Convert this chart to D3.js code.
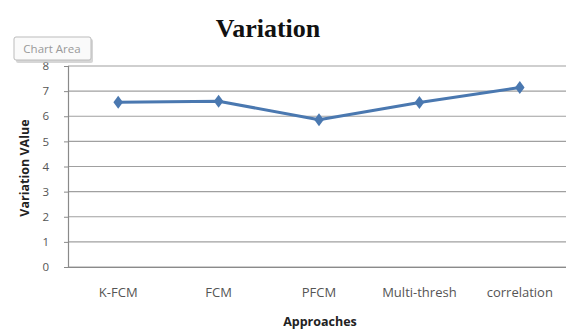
<!DOCTYPE html>
<html><head><meta charset="utf-8">
<script src="https://cdn.jsdelivr.net/npm/d3@7/dist/d3.min.js"></script>
<style>body{margin:0;background:#fff}svg{display:block}</style>
</head><body>
<script>
const categories = ["K-FCM", "FCM", "PFCM", "Multi-thresh", "correlation"];
const values = [6.56, 6.6, 5.86, 6.55, 7.14];
const yTicks = [0, 1, 2, 3, 4, 5, 6, 7, 8];

const W = 566, H = 331;
const svg = d3.select("body").append("svg").attr("width", W).attr("height", H);

const x = d3.scaleBand().domain(categories).range([68, 570]);
const y = d3.scaleLinear().domain([0, 8]).range([267, 66]);

// gridlines
svg.append("g").selectAll("line").data(yTicks).join("line")
  .attr("x1", 68).attr("x2", W).attr("y1", d => y(d)).attr("y2", d => y(d))
  .attr("stroke", "#a0a0a0").attr("stroke-width", 1.2);

// y axis
const yAxis = svg.append("g").attr("transform", "translate(68,0)")
  .call(d3.axisLeft(y).tickValues(yTicks).tickSize(4).tickPadding(15).tickFormat(d3.format("d")));
yAxis.select(".domain").attr("stroke", "#8a8a8a").attr("stroke-width", 1.2);
yAxis.selectAll(".tick line").attr("stroke", "#8a8a8a");
yAxis.selectAll("text").attr("font-family", "Open Sans, sans-serif").attr("font-size", 11.5).attr("fill", "#555");

// x axis
const xAxis = svg.append("g").attr("transform", "translate(0,267)")
  .call(d3.axisBottom(x).tickSize(0).tickPadding(21));
xAxis.select(".domain").attr("stroke", "#8a8a8a").attr("stroke-width", 1.2);
xAxis.selectAll("text").attr("font-family", "Open Sans, sans-serif").attr("font-size", 13)
  .attr("fill", "#555");

// line
const cx = d => x(d) + x.bandwidth() / 2;
const line = d3.line().x((d, i) => cx(categories[i])).y(d => y(d));
svg.append("path").datum(values).attr("d", line)
  .attr("fill", "none").attr("stroke", "#4a78b0").attr("stroke-width", 3).attr("stroke-linejoin", "round");

svg.append("g").selectAll("path").data(values).join("path")
  .attr("d", d3.symbol().type(d3.symbolDiamond).size(60))
  .attr("transform", (d, i) => `translate(${cx(categories[i])},${y(d)}) scale(1.15,0.9)`)
  .attr("fill", "#4a78b0");

// title
svg.append("text").attr("x", 268).attr("y", 37).attr("text-anchor", "middle")
  .attr("font-family", "Liberation Serif, Times New Roman, serif").attr("font-weight", "bold")
  .attr("font-size", 26).attr("fill", "#111").text("Variation");

// axis titles
svg.append("text").attr("transform", "translate(29,168) rotate(-90)").attr("text-anchor", "middle")
  .attr("font-family", "Open Sans, sans-serif").attr("font-weight", "bold")
  .attr("font-size", 12.5).attr("fill", "#222").text("Variation VAlue");
svg.append("text").attr("x", 320).attr("y", 326).attr("text-anchor", "middle")
  .attr("font-family", "Open Sans, sans-serif").attr("font-weight", "bold")
  .attr("font-size", 12.5).attr("fill", "#222").text("Approaches");

// Chart Area tooltip
const tip = svg.append("g");
tip.append("rect").attr("x", 16).attr("y", 39).attr("width", 77).attr("height", 24).attr("rx", 2)
  .attr("fill", "#bbb").attr("opacity", 0.6);
tip.append("rect").attr("x", 14).attr("y", 37).attr("width", 77).attr("height", 23).attr("rx", 2)
  .attr("fill", "#fafafa").attr("stroke", "#bbb");
tip.append("text").attr("x", 52).attr("y", 53).attr("text-anchor", "middle")
  .attr("font-family", "Open Sans, sans-serif").attr("font-size", 11.5).attr("fill", "#999").text("Chart Area");
</script>
</body></html>
